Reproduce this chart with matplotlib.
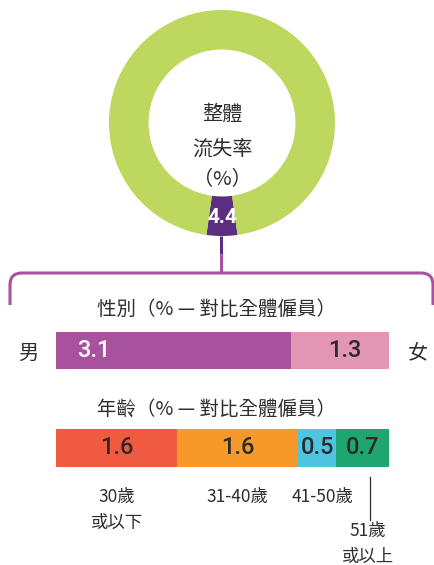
import matplotlib.pyplot as plt
from matplotlib.path import Path
from matplotlib.patches import PathPatch

plt.rcParams['font.family'] = ['Noto Sans CJK TC', 'DejaVu Sans']

overall = 4.4
gender_labels = ["男", "女"]
gender_values = [3.1, 1.3]
age_labels = ["30歲\n或以下", "31-40歲", "41-50歲", "51歲\n或以上"]
age_values = [1.6, 1.6, 0.5, 0.7]

W, H = 435, 565
fig = plt.figure(figsize=(W / 100, H / 100), dpi=100)
TXT = "#2e2e2e"


def box(x0, y0, x1, y1):
    return [x0 / W, 1 - y1 / H, (x1 - x0) / W, (y1 - y0) / H]


# overlay in pixel coords for text and bracket
ov = fig.add_axes([0, 0, 1, 1])
ov.set_xlim(0, W)
ov.set_ylim(H, 0)
ov.axis("off")

# donut
ad = fig.add_axes(box(109, 10, 335, 236))
share = overall / 100
ad.pie([share, 1 - share], colors=["#5a2e80", "#bed75e"],
       startangle=270 - share * 360 / 2, counterclock=True,
       wedgeprops=dict(width=0.35, edgecolor="none"))
ad.set_xlim(-1, 1)
ad.set_ylim(-1, 1)
ad.set_aspect("equal")
ad.axis("off")
ad.text(0, -0.84, f"{overall}", ha="center", va="center", color="white",
        fontsize=15, fontweight="bold", family="Roboto")
ad.text(0, 0.08, "整體", ha="center", va="center", fontsize=14.5, color=TXT,
        fontweight="medium")
ad.text(0, -0.23, "流失率", ha="center", va="center", fontsize=14.5, color=TXT,
        fontweight="medium")
ad.text(0, -0.50, "（%）", ha="center", va="center", fontsize=14.5, color=TXT,
        fontweight="medium")

# connector + bracket
ov.plot([221, 221], [236, 254], color="#5a2e80", lw=2.2, solid_capstyle="butt")
ov.plot([221, 221], [254, 273], color="#a8529e", lw=2.2, solid_capstyle="butt")
r = 12
verts = [(10, 305), (10, 273 + r), (10, 273), (10 + r, 273),
         (433 - r, 273), (433, 273), (433, 273 + r), (433, 305)]
codes = [Path.MOVETO, Path.LINETO, Path.CURVE3, Path.CURVE3,
         Path.LINETO, Path.CURVE3, Path.CURVE3, Path.LINETO]
ov.add_patch(PathPatch(Path(verts, codes), fill=False, edgecolor="#a8529e", lw=2.2))

ov.text(217, 309, "性別（% — 對比全體僱員）", ha="center", va="center",
        fontsize=14, color=TXT, fontweight="medium")
ov.text(217, 410, "年齡（% — 對比全體僱員）", ha="center", va="center",
        fontsize=14, color=TXT, fontweight="medium")

# gender bar
ag = fig.add_axes(box(56, 332, 389, 369))
g_colors = ["#a8529e", "#e396b4"]
left = 0
for i, v in enumerate(gender_values):
    ag.barh(0, v, left=left, height=1, color=g_colors[i])
    left += v
ag.set_xlim(0, sum(gender_values))
ag.set_ylim(-0.5, 0.5)
ag.axis("off")
ag.text(0.5, 0, f"{gender_values[0]}", ha="center", va="center", color="white",
        fontsize=17, family="Roboto", fontweight="medium")
ag.text(gender_values[0] + gender_values[1] * 0.55, 0, f"{gender_values[1]}",
        ha="center", va="center", color="#2b2b2b", fontsize=17, family="Roboto",
        fontweight="medium")
ov.text(28, 353, gender_labels[0], ha="center", va="center", fontsize=14.5,
        color=TXT, fontweight="medium")
ov.text(418, 353, gender_labels[1], ha="center", va="center", fontsize=14.5,
        color=TXT, fontweight="medium")

# age bar
aa = fig.add_axes(box(56, 429, 389, 467))
a_colors = ["#f05a40", "#f7982b", "#4dc4e0", "#1fa570"]
left = 0
centers = []
for i, v in enumerate(age_values):
    aa.barh(0, v, left=left, height=1, color=a_colors[i])
    centers.append(left + v / 2)
    aa.text(left + v / 2, 0, f"{v}", ha="center", va="center", color="#2b2b2b",
            fontsize=17, family="Roboto", fontweight="medium")
    left += v
aa.set_xlim(0, sum(age_values))
aa.set_ylim(-0.5, 0.5)
aa.axis("off")

scale = 333 / sum(age_values)
label_x = [56 + c * scale for c in centers]
label_x[2] += 5
for i, lab in enumerate(age_labels[:3]):
    ov.text(label_x[i], 488, lab, ha="center", va="top", fontsize=12.5,
            color=TXT, linespacing=1.55, fontweight="medium")
ov.plot([370, 370], [477, 520], color=TXT, lw=0.9)
ov.text(368, 522, age_labels[3], ha="center", va="top", fontsize=12.5,
        color=TXT, linespacing=1.55, fontweight="medium")

fig.savefig("out.png", dpi=100)
